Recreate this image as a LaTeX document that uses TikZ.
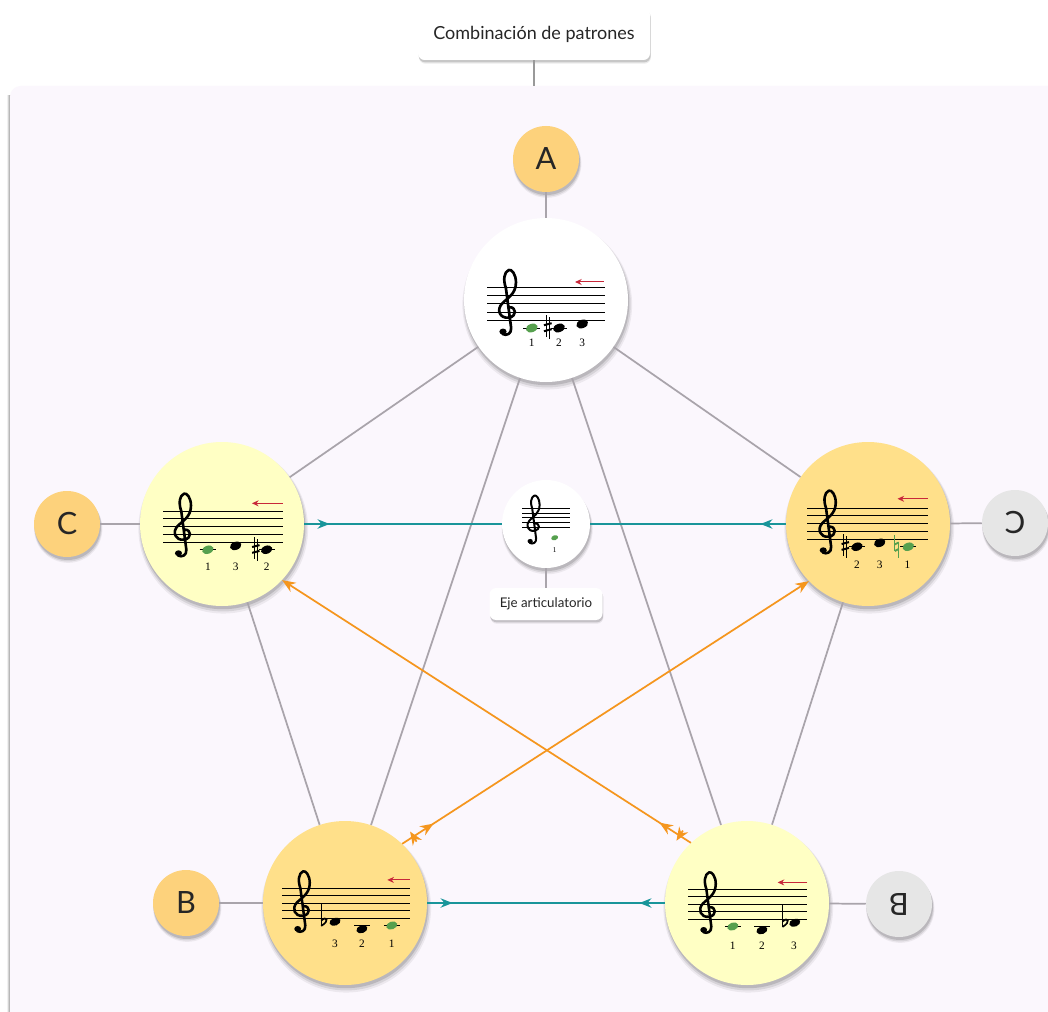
\documentclass[tikz,border=0pt]{standalone}
\usepackage{fontspec}
\newfontfamily\lato{Lato}
\newfontfamily\numfont{Liberation Serif}
\usetikzlibrary{arrows.meta,shadows,decorations.markings}

\definecolor{panelbg}{HTML}{FBF7FD}
\definecolor{orangeA}{HTML}{FDD27C}
\definecolor{orangeBig}{HTML}{FFE08A}
\definecolor{yellowL}{HTML}{FFFFC4}
\definecolor{grayN}{HTML}{E6E6E6}
\definecolor{linkgray}{HTML}{A9A4AB}
\definecolor{tealc}{HTML}{19959A}
\definecolor{orangec}{HTML}{F5961E}
\definecolor{redc}{HTML}{C8283A}
\definecolor{notegreen}{HTML}{56A04E}

% treble clef, drawn in staff spaces (bottom line at y=0, G line at y=1)
\tikzset{gclef/.pic={
  \draw[line cap=round, line join=round]
    (0.15,1.6) .. controls (0.9,1.65) and (1.0,0.45) .. (0.1,0.3)
    .. controls (-0.85,0.15) and (-1.2,1.3) .. (-0.6,2.05)
    .. controls (-0.1,2.7) and (0.85,3.2) .. (0.85,4.7)
    .. controls (0.85,5.7) and (0.4,6.4) .. (0.1,6.25)
    .. controls (-0.4,6.0) and (-0.5,5.0) .. (-0.2,4.0)
    -- (0.35,-1.0)
    .. controls (0.4,-1.75) and (-0.15,-2.0) .. (-0.55,-1.75);
  \fill (-0.5,-1.45) circle (0.38);
}}

\newcommand\mStaff[1]{\foreach \k in {0,...,4} \draw[staffline] (0,\k) -- (#1,\k);}
\newcommand\mNote[3][black]{\fill[#1, rotate around={20:(#2,#3)}] (#2,#3) ellipse [x radius=0.76, y radius=0.52];}
\newcommand\mLedger[1]{\draw[staffline] (#1-1.05,-1) -- (#1+1.05,-1);}
\newcommand\mSharp[2]{%
  \draw[line width=0.6pt] (#1-0.2,#2-1.25) -- (#1-0.2,#2+1.5) (#1+0.2,#2-1.5) -- (#1+0.2,#2+1.25);
  \draw[line width=1.5pt] (#1-0.48,#2-0.5) -- (#1+0.48,#2-0.25) (#1-0.48,#2+0.25) -- (#1+0.48,#2+0.5);}
\newcommand\mFlat[2]{%
  \draw[line width=0.7pt] (#1-0.35,#2+2.4) -- (#1-0.35,#2-0.55);
  \draw[line width=1.3pt] (#1-0.35,#2+0.15) .. controls (#1+0.35,#2+0.85) and (#1+0.85,#2+0.1) .. (#1-0.35,#2-0.55);}
\newcommand\mNat[3][black]{%
  \draw[#1, line width=0.65pt] (#2-0.25,#3+1.5) -- (#2-0.25,#3-0.55) (#2+0.25,#3+0.55) -- (#2+0.25,#3-1.5);
  \draw[#1, line width=1.4pt] (#2-0.25,#3+0.3) -- (#2+0.25,#3+0.55) (#2-0.25,#3-0.55) -- (#2+0.25,#3-0.3);}
\newcommand\mNum[4]{\node[numlabel] (#1) at (#2,#3) {#4};}

\begin{document}
\begin{tikzpicture}[x=0.75pt, y=-0.75pt,
  % soft drop shadow built from a few stacked translucent copies
  softshadow/.style={
      drop shadow={shadow xshift=0.9pt, shadow yshift=-3.4pt, shadow scale=1.035, opacity=0.06, fill=black},
      drop shadow={shadow xshift=0.8pt, shadow yshift=-2.8pt, shadow scale=1.02, opacity=0.09, fill=black},
      drop shadow={shadow xshift=0.6pt, shadow yshift=-2.1pt, shadow scale=1.005, opacity=0.13, fill=black}},
  boxshadow/.style={
      drop shadow={shadow xshift=0.7pt, shadow yshift=-2.8pt, opacity=0.08, fill=black},
      drop shadow={shadow xshift=0.5pt, shadow yshift=-1.8pt, opacity=0.15, fill=black}},
  bigcircle/.style={circle, minimum size=123pt, inner sep=0pt, softshadow},
  midcircle/.style={circle, minimum size=66pt, inner sep=0pt, fill=white, softshadow},
  letter/.style={circle, minimum size=49.5pt, inner sep=0pt, softshadow,
      font=\lato\fontsize{23}{26}\selectfont, text=black!85},
  labelbox/.style={rectangle, rounded corners=5pt, fill=white, inner sep=0pt, boxshadow,
      text=black!85},
  link/.style={draw=linkgray, line width=1.3pt},
  staffline/.style={line width=0.75pt},
  numlabel/.style={inner sep=0pt, font=\numfont\fontsize{8.5}{10}\selectfont},
  redarrow/.style={draw=redc, line width=0.75pt, -{Stealth[length=5pt, width=4.5pt]}},
  tealtip/.style={tealc, line width=1.3pt},
  tealin/.style={draw=tealc, line width=1.3pt, postaction={decorate},
      decoration={markings, mark=at position 19pt with {\arrow[tealtip]{Stealth[length=9pt, width=7pt]}}}},
  tealboth/.style={draw=tealc, line width=1.3pt, postaction={decorate},
      decoration={markings,
        mark=at position 19pt with {\arrow[tealtip]{Stealth[length=9pt, width=7pt]}},
        mark=at position -19pt with {\arrowreversed[tealtip]{Stealth[length=9pt, width=7pt]}}}},
  orangelink/.style={color=orangec, line width=1.3pt, -{Stealth[length=10pt, width=8pt]},
      postaction={decorate},
      decoration={markings,
        mark=at position 10pt with {\draw[orangec, line width=1.3pt] (0,-4.5pt) -- (0,4.5pt);},
        mark=at position 28pt with {\arrow[orangec]{Stealth[length=10pt, width=8pt]}}}}
]
\useasboundingbox (0,0) rectangle (1048,1012);

% light panel behind the pattern graph, with a soft edge on the left
\fill[white] (0,0) rectangle (1048,1012);
\shade[left color=white, right color=black!45] (6.5,96) rectangle (10.5,1012);
\fill[panelbg, rounded corners=8pt] (10,86) rectangle (1090,1050);
\coordinate (ptop) at (534,86);

% heading
\node[labelbox, minimum width=174pt, minimum height=39pt, font=\lato\fontsize{13.5}{16}\selectfont]
  (title) at (534,34) {Combinación de patrones};
\draw[link, draw=gray!80] (title) -- (ptop);

% pattern circles
\node[bigcircle, fill=white]     (top) at (546,300) {};
\node[bigcircle, fill=yellowL]   (lc)  at (222,524) {};
\node[bigcircle, fill=orangeBig] (rc)  at (868,524) {};
\node[bigcircle, fill=orangeBig] (bl)  at (345,903) {};
\node[bigcircle, fill=yellowL]   (br)  at (747,903) {};

% letter tags
\node[letter, fill=orangeA] (nA)  at (546,159) {A};
\node[letter, fill=orangeA] (nC)  at (67,524)  {C};
\node[letter, fill=grayN]   (nCm) at (1015,523) {\reflectbox{C}};
\node[letter, fill=orangeA] (nB)  at (186,903) {B};
\node[letter, fill=grayN]   (nBm) at (899,904) {\rotatebox{180}{B}};

% pentagram skeleton
\draw[link] (top) -- (lc);
\draw[link] (top) -- (rc);
\draw[link] (top) -- (bl);
\draw[link] (top) -- (br);
\draw[link] (lc) -- (bl);
\draw[link] (rc) -- (br);

\draw[link] (nA) -- (top);
\draw[link] (nC) -- (lc);
\draw[link] (rc) -- (nCm);
\draw[link] (nB) -- (bl);
\draw[link] (br) -- (nBm);

% mirror axis
\node[midcircle] (ctr) at (546,524) {};
\draw[tealin] (lc) -- (ctr);
\draw[tealin] (rc) -- (ctr);
\node[labelbox, minimum width=84.75pt, minimum height=24pt, font=\lato\fontsize{10}{12}\selectfont]
  (eje) at (546,604) {Eje articulatorio};
\draw[link] (ctr) -- (eje);
\draw[tealboth] (bl) -- (br);

% crossed transformations
\draw[orangelink] (br.133) -- (lc.-43);
\draw[orangelink] (bl.46) -- (rc.-136);

% top: C, C#, D
\begin{scope}[shift={(487,320)}, x=6pt, y=6pt]
  \mStaff{14.75}
  \pic[line width=2pt, xscale=1.2] at (2.6,0) {gclef};
  \mLedger{5.6}\mNote[notegreen]{5.6}{-1}
  \mSharp{7.6}{-0.9}\mLedger{9.0}\mNote{9.0}{-1}
  \mNote{11.9}{-0.5}
  \mNum{tA}{5.6}{-2.9}{1}\mNum{tB}{9.0}{-2.9}{2}\mNum{tC}{11.9}{-2.9}{3}
  \draw[redarrow] (14.6,4.75) -- (11.0,4.75);
\end{scope}

% left: C, D, C#
\begin{scope}[shift={(163,542)}, x=5.8pt, y=5.8pt]
  \mStaff{15.5}
  \pic[line width=1.95pt, xscale=1.2] at (2.6,0) {gclef};
  \mLedger{5.8}\mNote[notegreen]{5.8}{-1}
  \mNote{9.4}{-0.5}
  \mSharp{12.0}{-0.9}\mLedger{13.4}\mNote{13.4}{-1}
  \mNum{lA}{5.8}{-3.2}{1}\mNum{lB}{9.4}{-3.2}{3}\mNum{lC}{13.4}{-3.2}{2}
  \draw[redarrow] (15.5,5.0) -- (11.5,5.0);
\end{scope}

% right: C#, D, C natural
\begin{scope}[shift={(807,539)}, x=5.8pt, y=5.8pt]
  \mStaff{15.6}
  \pic[line width=1.95pt, xscale=1.2] at (2.7,0) {gclef};
  \mSharp{4.95}{-0.9}\mLedger{6.45}\mNote{6.45}{-1}
  \mNote{9.4}{-0.5}
  \mNat[notegreen]{11.6}{-1}\mLedger{13.1}\mNote[notegreen]{13.1}{-1}
  \mNum{rA}{6.45}{-3.3}{2}\mNum{rB}{9.4}{-3.3}{3}\mNum{rC}{13.0}{-3.3}{1}
  \draw[redarrow] (15.6,5.2) -- (11.7,5.2);
\end{scope}

% bottom left: Db, B, C
\begin{scope}[shift={(282,918)}, x=5.6pt, y=5.6pt]
  \mStaff{17.1}
  \pic[line width=1.9pt, xscale=1.2] at (2.7,0) {gclef};
  \mFlat{5.6}{-0.5}\mNote{7.1}{-0.5}
  \mLedger{10.7}\mNote{10.7}{-1.5}
  \mLedger{14.7}\mNote[notegreen]{14.7}{-1}
  \mNum{bA}{7.1}{-3.5}{3}\mNum{bB}{10.7}{-3.5}{2}\mNum{bC}{14.7}{-3.5}{1}
  \draw[redarrow] (17.1,5.1) -- (14.1,5.1);
\end{scope}

% bottom right: C, B, Db
\begin{scope}[shift={(688,919)}, x=5.6pt, y=5.6pt]
  \mStaff{16}
  \pic[line width=1.9pt, xscale=1.2] at (2.7,0) {gclef};
  \mLedger{6.0}\mNote[notegreen]{6.0}{-1}
  \mLedger{9.9}\mNote{9.9}{-1.5}
  \mFlat{13.0}{-0.5}\mNote{14.3}{-0.5}
  \mNum{dA}{6.0}{-3.6}{1}\mNum{dB}{9.9}{-3.6}{2}\mNum{dC}{14.2}{-3.6}{3}
  \draw[redarrow] (16,4.9) -- (12,4.9);
\end{scope}

% axis note
\begin{scope}[shift={(522,527)}, x=3.5pt, y=3.5pt]
  \foreach \k in {0,...,4} \draw[line width=0.55pt] (0,\k) -- (10.2,\k);
  \pic[line width=1.5pt, xscale=1.5, yscale=1.27] at (2.5,-1.2) {gclef};
  \mNote[notegreen]{7.0}{-2.3}
  \node[inner sep=0pt, font=\numfont\fontsize{5.5}{6}\selectfont] (cA) at (7.0,-4.9) {1};
\end{scope}
\end{tikzpicture}
\end{document}
